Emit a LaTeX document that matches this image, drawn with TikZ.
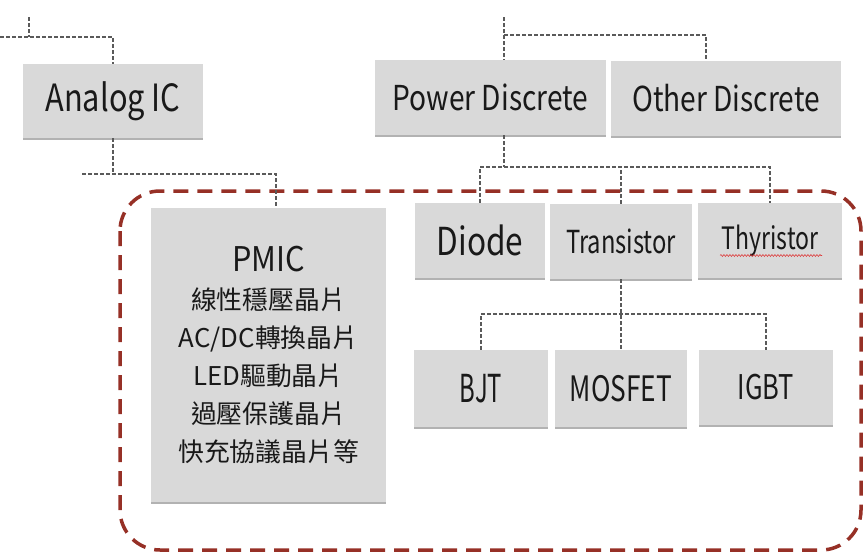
\documentclass[tikz,border=0pt]{standalone}
\usepackage{fontspec}
\setmainfont{Noto Sans CJK TC}
\newfontfamily\tallfont[FakeStretch=0.82]{Noto Sans CJK TC}
\newfontfamily\narrowfont[FakeStretch=0.75]{Noto Sans CJK TC}
\newfontfamily\bjtfont[FakeStretch=0.62]{Noto Sans CJK TC}
\newfontfamily\pmicfont[FakeStretch=0.9]{Noto Sans CJK TC}
\usetikzlibrary{shadows,decorations.pathmorphing}
\definecolor{boxgray}{RGB}{217,217,217}
\definecolor{conngray}{RGB}{90,90,90}
\definecolor{reddash}{RGB}{150,48,38}
\definecolor{txt}{RGB}{25,25,25}
\definecolor{squigred}{RGB}{220,60,60}
\begin{document}
\begin{tikzpicture}[x=1pt,y=-1pt,
  box/.style={fill=boxgray, draw=none, inner sep=0pt, text=txt, align=center,
    drop shadow={shadow xshift=0pt, shadow yshift=-1.5pt, opacity=0.3, fill=black}},
  conn/.style={draw=conngray, line width=1.2pt, dash pattern=on 4pt off 2pt},
  redline/.style={draw=reddash, line width=3.5pt, dash pattern=on 15pt off 9pt, rounded corners=40pt},
  squig/.style={draw=squigred, line width=0.6pt, decorate, decoration={snake, amplitude=0.9pt, segment length=3pt}}
]
\useasboundingbox (0,0) rectangle (864,554);

% group outline
\draw[redline] (120,191) rectangle (861,550);

% boxes
\node[box, minimum width=180pt, minimum height=74pt, font=\tallfont\fontsize{37.5}{40}\selectfont] (analog) at (113,101) {Analog IC};
\node[box, minimum width=231pt, minimum height=75pt, font=\tallfont\fontsize{34.3}{40}\selectfont] (power) at (490.5,97.5) {Power Discrete};
\node[box, minimum width=230pt, minimum height=75pt, font=\tallfont\fontsize{34.3}{40}\selectfont] (other) at (726,98.5) {Other Discrete};
\node[box, minimum width=235pt, minimum height=294pt, font=\fontsize{25.8}{38}\selectfont] (pmic) at (268.5,355)
  {{\pmicfont\fontsize{34}{38}\selectfont PMIC}\\ 線性穩壓晶片\\ AC/DC轉換晶片\\ LED驅動晶片\\ 過壓保護晶片\\ 快充協議晶片等};
\node[box, minimum width=130pt, minimum height=75pt, font=\tallfont\fontsize{38.5}{40}\selectfont] (diode) at (480,240.5) {Diode};
\node[box, minimum width=142pt, minimum height=75pt, font=\narrowfont\fontsize{31.7}{36}\selectfont] (transistor) at (621,241.5) {Transistor};
\node[box, minimum width=144pt, minimum height=75pt, font=\narrowfont\fontsize{30.8}{36}\selectfont] (thyristor) at (770,240.5) {Thyristor};
\node[box, minimum width=134pt, minimum height=77pt, font=\bjtfont\fontsize{38.5}{40}\selectfont] (bjt) at (481,388.5) {BJT};
\node[box, minimum width=132pt, minimum height=77pt, font=\narrowfont\fontsize{35}{38}\selectfont] (mosfet) at (621,388.5) {MOSFET};
\node[box, minimum width=134pt, minimum height=75pt, font=\narrowfont\fontsize{34}{38}\selectfont] (igbt) at (766,387.5) {IGBT};

% spell-check squiggle under Thyristor
\draw[squig] ([xshift=-50pt,yshift=-15pt]thyristor.center) -- ++(102,0);

% connectors
\coordinate (ltop) at (29,17);
\coordinate (lleft) at (0,37);
\draw[conn] (ltop) -- (ltop |- lleft);
\draw[conn] (lleft) -| (analog.north);

\coordinate (abar) at (82,174);
\coordinate (pmicdrop) at (276,174);
\draw[conn] (analog.south) -- (analog.south |- abar);
\draw[conn] (abar) -| (pmicdrop |- pmic.north);

\coordinate (ptop) at (504,17);
\coordinate (pbar) at (504,35);
\coordinate (oj) at (706,35);
\draw[conn] (ptop) -- (ptop |- power.north);
\draw[conn] (pbar) -- (oj) -- (oj |- other.north);

\coordinate (pj2) at (504,167);
\draw[conn] (pj2 |- power.south) -- (pj2);
\draw[conn] (diode.north) |- (pj2) -| (thyristor.north);
\draw[conn] (transistor.north) -- (transistor.north |- pj2);

\coordinate (tj) at (621,314);
\draw[conn] (transistor.south) -- (mosfet.north);
\draw[conn] (bjt.north) |- (tj) -| (igbt.north);
\end{tikzpicture}
\end{document}
